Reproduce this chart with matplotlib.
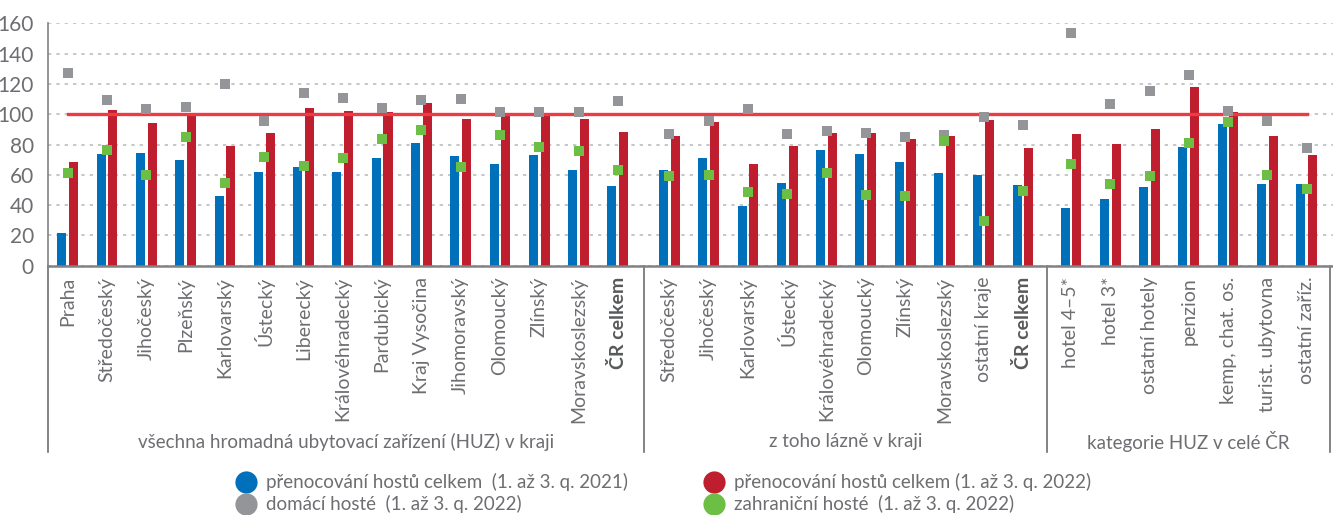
import numpy as np
import matplotlib.pyplot as plt
from matplotlib.lines import Line2D

# category labels for the three groups
kraje = ['Praha', 'Středočeský', 'Jihočeský', 'Plzeňský', 'Karlovarský', 'Ústecký',
         'Liberecký', 'Královéhradecký', 'Pardubický', 'Kraj Vysočina', 'Jihomoravský',
         'Olomoucký', 'Zlínský', 'Moravskoslezský', 'ČR celkem']
lazne = ['Středočeský', 'Jihočeský', 'Karlovarský', 'Ústecký', 'Královéhradecký',
         'Olomoucký', 'Zlínský', 'Moravskoslezský', 'ostatní kraje', 'ČR celkem']
kategorie = ['hotel 4–5*', 'hotel 3*', 'ostatní hotely', 'penzion', 'kemp, chat. os.',
             'turist. ubytovna', 'ostatní zaříz.']
group_titles = ['všechna hromadná ubytovací zařízení (HUZ) v kraji',
                'z toho lázně v kraji', 'kategorie HUZ v celé ČR']

# přenocování hostů celkem (1.-3. q. 2021)
nights_2021 = [21.6, 73.8, 74.4, 69.8, 46.0, 61.9, 65.2, 61.9, 71.1, 81.0, 72.4, 67.2, 73.1, 63.2, 52.6,
               63.2, 71.1, 39.4, 54.6, 76.4, 73.8, 68.5, 61.2, 59.9, 53.3,
               38.1, 44.0, 52.0, 78.4, 93.6, 53.9, 53.9]
# přenocování hostů celkem (1.-3. q. 2022)
nights_2022 = [68.5, 102.8, 94.2, 99.5, 79.0, 87.6, 104.1, 102.2, 101.5, 107.4, 96.9, 99.3, 99.4, 96.9, 88.3,
               85.6, 94.9, 67.2, 79.0, 87.6, 87.6, 83.7, 85.6, 96.2, 77.7,
               87.0, 80.4, 90.3, 118.0, 101.5, 85.6, 73.1]
# domácí hosté (1.-3. q. 2022)
domestic = [127.3, 109.4, 103.5, 104.8, 120.2, 95.8, 114.0, 110.7, 104.1, 109.4, 110.1, 101.5, 101.5, 101.5, 109.0,
            87.0, 95.8, 103.5, 87.0, 88.9, 87.8, 85.2, 86.0, 98.2, 92.9,
            153.7, 106.8, 115.4, 125.9, 102.2, 95.6, 77.7]
# zahraniční hosté (1.-3. q. 2022)
foreign = [61.2, 76.4, 59.9, 85.2, 54.6, 71.8, 66.1, 71.1, 83.9, 89.8, 65.4, 86.5, 78.6, 76.0, 63.4,
           59.2, 60.1, 48.7, 47.3, 61.4, 46.7, 46.0, 82.6, 29.7, 49.3,
           67.2, 53.9, 59.2, 81.0, 94.9, 59.9, 50.6]

BLUE = '#0070ba'
RED = '#be1e2d'
GRAY = '#939598'
GREEN = '#6dbe45'
LINE_RED = '#ee3a43'
TXT = '#6d6e71'

plt.rcParams['font.family'] = ['Lato', 'DejaVu Sans']

# x positions, with a small extra gap between groups
sizes = [len(kraje), len(lazne), len(kategorie)]
gaps = [0.0, 0.31, 0.53]
x = np.concatenate([np.arange(sum(sizes[:g]), sum(sizes[:g + 1])) + gaps[g] for g in range(3)])
labels = kraje + lazne + kategorie

fig = plt.figure(figsize=(13.33, 5.15), dpi=100)
ax = fig.add_axes([0.0358, 0.484, 0.9642, 0.4708])

w = 0.23
ax.bar(x - 0.15, nights_2021, width=w, color=BLUE, zorder=2)
ax.bar(x + 0.15, nights_2022, width=w, color=RED, zorder=2)
ax.plot([x[0], x[-1]], [100, 100], color=LINE_RED, lw=2.4, zorder=3)
ax.scatter(x, domestic, marker='s', s=52, color=GRAY, zorder=4, linewidths=0)
ax.scatter(x, foreign, marker='s', s=52, color=GREEN, zorder=5, linewidths=0)

ax.set_ylim(0, 160)
ax.set_xlim(-0.51, 32.2)
ax.set_yticks(range(0, 161, 20))
ax.yaxis.grid(True, linestyle=(0, (2, 3)), color='#bcbec0', lw=1.2, zorder=0)
ax.set_axisbelow(True)
for s in ['top', 'right']:
    ax.spines[s].set_visible(False)
ax.spines['bottom'].set_color('#808285')
ax.spines['bottom'].set_linewidth(1.8)
ax.spines['left'].set_color('#808285')
ax.spines['left'].set_linewidth(1.2)
ax.tick_params(axis='y', length=0, labelsize=15, labelcolor=TXT, pad=10)
ax.tick_params(axis='x', length=0, pad=8)
ax.set_xticks(x)
ax.set_xticklabels(labels, rotation=90, fontsize=14, color=TXT, va='top', ha='center')
for t in ax.get_xticklabels():
    if t.get_text() == 'ČR celkem':
        t.set_fontweight('bold')
        t.set_color('#58595b')

# separators and group titles below the axis
line_kw = dict(color='#6d6e71', lw=1.2, clip_on=False, transform=ax.get_xaxis_transform())
seps = [-0.51, (x[14] + x[15]) / 2, (x[24] + x[25]) / 2, 32.12]
for sx in seps:
    ax.add_line(Line2D([sx, sx], [0, -0.769], **line_kw))
for g in range(3):
    ax.text((seps[g] + seps[g + 1]) / 2, -0.725, group_titles[g], transform=ax.get_xaxis_transform(),
            ha='center', va='center', fontsize=13.5, color=TXT)

def dot(c):
    return Line2D([], [], marker='o', linestyle='', markersize=16, markerfacecolor=c, markeredgewidth=0)

leg_kw = dict(loc='center left', frameon=False, fontsize=13.5, handlelength=1.3, handletextpad=0.4,
              labelspacing=0.22, borderpad=0, borderaxespad=0, labelcolor=TXT)
fig.legend([dot(BLUE), dot(GRAY)], ['přenocování hostů celkem  (1. až 3. q. 2021)', 'domácí hosté  (1. až 3. q. 2022)'],
           bbox_to_anchor=(234 / 1333, 0.042), **leg_kw)
fig.legend([dot(RED), dot(GREEN)], ['přenocování hostů celkem (1. až 3. q. 2022)', 'zahraniční hosté  (1. až 3. q. 2022)'],
           bbox_to_anchor=(702 / 1333, 0.042), **leg_kw)

fig.savefig('out.png', dpi=100)
